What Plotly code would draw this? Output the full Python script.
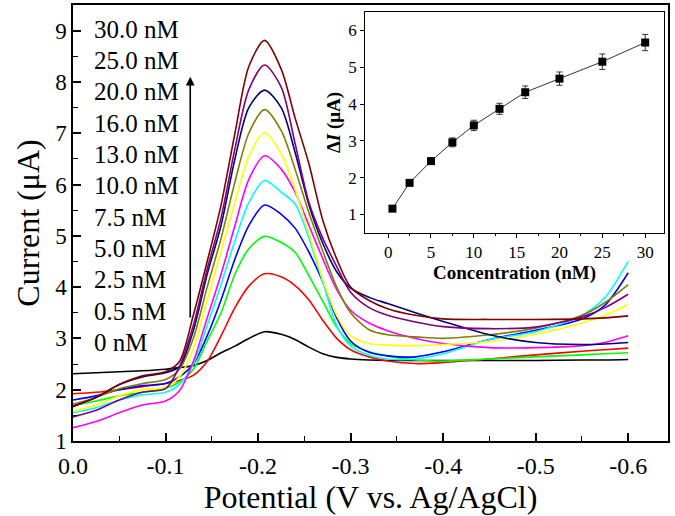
import plotly.graph_objects as go

# ---------------- data ----------------
potential = [0, -0.025, -0.05, -0.075, -0.1, -0.115, -0.13, -0.145, -0.16, -0.175, -0.19, -0.207,
             -0.225, -0.24, -0.255, -0.27, -0.285, -0.3, -0.32, -0.34, -0.37, -0.4, -0.45, -0.5,
             -0.55, -0.575, -0.6]

labels = ["0 nM", "0.5 nM", "2.5 nM", "5.0 nM", "7.5 nM", "10.0 nM", "13.0 nM", "16.0 nM",
          "20.0 nM", "25.0 nM", "30.0 nM"]
colors = ["#000000", "#FF0000", "#00FF00", "#0000FF", "#00FFFF", "#FF00FF", "#FFFF00",
          "#808000", "#000080", "#800080", "#800000"]

c_0nM = [2.31, 2.33, 2.35, 2.37, 2.40, 2.43, 2.47, 2.57, 2.72, 2.85, 3.00, 3.13,
         3.08, 2.98, 2.83, 2.70, 2.63, 2.60, 2.58, 2.57, 2.57, 2.57, 2.57, 2.57, 2.58, 2.58, 2.59]
c_05nM = [1.92, 1.95, 2.00, 2.06, 2.12, 2.18, 2.28, 2.55, 3.05, 3.60, 4.02, 4.26,
          4.20, 4.03, 3.75, 3.35, 3.00, 2.78, 2.64, 2.56, 2.51, 2.53, 2.60, 2.68, 2.75, 2.78, 2.81]
c_25nM = [1.69, 1.78, 1.88, 1.95, 2.03, 2.15, 2.40, 2.95, 3.50, 4.25, 4.75, 4.99,
          4.87, 4.68, 4.22, 3.72, 3.22, 2.90, 2.74, 2.66, 2.58, 2.56, 2.60, 2.64, 2.68, 2.70, 2.72]
c_5nM = [1.80, 1.88, 2.00, 2.08, 2.12, 2.25, 2.50, 3.05, 3.75, 4.55, 5.20, 5.60,
         5.42, 5.15, 4.68, 4.10, 3.40, 2.95, 2.73, 2.66, 2.64, 2.74, 2.98, 3.16, 3.38, 3.65, 4.28]
c_75nM = [1.55, 1.65, 1.80, 1.90, 1.95, 2.10, 2.50, 3.25, 4.05, 4.90, 5.65, 6.08,
          5.85, 5.62, 4.95, 4.10, 3.25, 2.85, 2.67, 2.60, 2.60, 2.70, 2.98, 3.13, 3.45, 3.80, 4.50]
c_10nM = [1.26, 1.38, 1.55, 1.70, 1.78, 1.98, 2.55, 3.40, 4.25, 5.20, 6.10, 6.56,
          6.30, 5.85, 5.20, 4.55, 3.95, 3.55, 3.30, 3.15, 3.00, 2.90, 2.82, 2.82, 2.86, 2.92, 3.05]
c_13nM = [1.58, 1.70, 1.88, 2.00, 2.05, 2.25, 2.80, 3.75, 4.70, 5.65, 6.55, 7.01,
          6.60, 5.90, 5.05, 4.15, 3.45, 3.05, 2.90, 2.87, 2.86, 2.88, 2.94, 3.08, 3.30, 3.45, 3.66]
c_16nM = [1.72, 1.85, 2.02, 2.12, 2.20, 2.40, 3.00, 4.00, 4.95, 6.05, 7.00, 7.46,
          7.05, 6.30, 5.45, 4.70, 4.00, 3.50, 3.17, 3.07, 3.03, 3.00, 3.07, 3.20, 3.45, 3.70, 4.05]
c_20nM = [1.68, 1.85, 2.10, 2.25, 2.33, 2.45, 3.15, 4.25, 5.20, 6.50, 7.50, 7.84,
          7.50, 6.63, 5.60, 4.85, 4.30, 3.98, 3.80, 3.68, 3.50, 3.33, 3.07, 2.92, 2.88, 2.89, 2.92]
c_25nM_b = [1.47, 1.60, 1.80, 1.95, 2.02, 2.45, 3.25, 4.35, 5.35, 6.70, 7.85, 8.33,
            7.90, 6.80, 5.65, 4.95, 4.40, 3.90, 3.60, 3.45, 3.32, 3.23, 3.19, 3.22, 3.42, 3.60, 3.86]
c_30nM = [1.67, 1.85, 2.10, 2.27, 2.35, 2.55, 3.45, 4.50, 5.60, 7.00, 8.30, 8.81,
          8.25, 7.30, 6.40, 5.30, 4.55, 4.00, 3.74, 3.58, 3.45, 3.38, 3.37, 3.37, 3.38, 3.40, 3.44]

curves = [c_0nM, c_05nM, c_25nM, c_5nM, c_75nM, c_10nM, c_13nM, c_16nM, c_20nM, c_25nM_b, c_30nM]

x_tickvals = [0.0, -0.1, -0.2, -0.3, -0.4, -0.5, -0.6]
x_ticktext = ["0.0", "-0.1", "-0.2", "-0.3", "-0.4", "-0.5", "-0.6"]
y_tickvals = [1, 2, 3, 4, 5, 6, 7, 8, 9]

# inset data
conc = [0.5, 2.5, 5, 7.5, 10, 13, 16, 20, 25, 30]
delta_i = [1.16, 1.86, 2.45, 2.96, 3.42, 3.87, 4.32, 4.69, 5.15, 5.67]
delta_err = [0.05, 0.06, 0.09, 0.12, 0.14, 0.15, 0.17, 0.18, 0.21, 0.22]
inset_xticks = [0, 5, 10, 15, 20, 25, 30]
inset_yticks = [1, 2, 3, 4, 5, 6]

# ---------------- figure ----------------
SERIF = "Liberation Serif, Times New Roman, serif"
fig = go.Figure()

for lab, col, ys in zip(labels, colors, curves):
    fig.add_trace(go.Scatter(x=potential, y=ys, mode="lines", name=lab,
                             line=dict(color=col, width=1.6, shape="spline", smoothing=0.8),
                             showlegend=False, xaxis="x", yaxis="y"))

fig.add_trace(go.Scatter(x=conc, y=delta_i, mode="lines+markers",
                         line=dict(color="#333333", width=1),
                         marker=dict(symbol="square", size=8, color="black"),
                         error_y=dict(type="data", array=delta_err, visible=True,
                                      color="#333333", thickness=1, width=3),
                         showlegend=False, xaxis="x2", yaxis="y2"))

# legend-like labels (text in data coordinates of main plot)
label_x = -0.021
label_top = 9.03
label_step = 0.611
annotations = []
for i, lab in enumerate(reversed(labels)):
    annotations.append(dict(x=label_x, y=label_top - i * label_step, xref="x", yref="y",
                            text=lab, showarrow=False, xanchor="left", yanchor="middle",
                            font=dict(family=SERIF, size=25, color="black")))
# arrow
annotations.append(dict(x=-0.1267, y=8.1, ax=-0.1267, ay=3.38, xref="x", yref="y",
                        axref="x", ayref="y", text="", showarrow=True, arrowhead=2,
                        arrowsize=1.1, arrowwidth=1.6, arrowcolor="black"))

axis_common = dict(showline=True, linecolor="black", linewidth=1.5, mirror=True,
                   showgrid=False, zeroline=False)

fig.update_layout(
    width=675, height=516,
    margin=dict(l=73, r=7, t=3, b=75),
    paper_bgcolor="white", plot_bgcolor="white",
    font=dict(family=SERIF, color="black"),
    xaxis=dict(range=[0.0, -0.643], tickvals=x_tickvals, ticktext=x_ticktext,
               ticks="inside", ticklen=8, tickwidth=1.5, tickcolor="black",
               minor=dict(tickvals=[-0.05, -0.15, -0.25, -0.35, -0.45, -0.55],
                          ticks="inside", ticklen=5, tickwidth=1.2, tickcolor="black"),
               tickfont=dict(family=SERIF, size=24), ticklabelstandoff=2,
               title=dict(text="Potential (V vs. Ag/AgCl)", font=dict(family=SERIF, size=32),
                          standoff=2),
               **axis_common),
    yaxis=dict(range=[1, 9.5], tickvals=y_tickvals,
               ticks="inside", ticklen=8, tickwidth=1.5, tickcolor="black",
               minor=dict(tickvals=[1.5, 2.5, 3.5, 4.5, 5.5, 6.5, 7.5, 8.5],
                          ticks="inside", ticklen=5, tickwidth=1.2, tickcolor="black"),
               tickfont=dict(family=SERIF, size=23),
               title=dict(text="Current (μA)", font=dict(family=SERIF, size=32), standoff=6),
               **axis_common),
    xaxis2=dict(domain=[0.4908, 0.9933], anchor="y2", range=[-2.7, 32.2],
                tickvals=inset_xticks, ticks="outside", ticklen=4, tickwidth=1, tickcolor="black",
                minor=dict(tickvals=[2.5, 7.5, 12.5, 17.5, 22.5, 27.5], ticks="outside",
                           ticklen=2, tickwidth=1, tickcolor="black"),
                tickfont=dict(family=SERIF, size=17),
                title=dict(text="<b>Concentration (nM)</b>", font=dict(family=SERIF, size=19),
                           standoff=0),
                showline=True, linecolor="black", linewidth=1, mirror=True,
                showgrid=False, zeroline=False),
    yaxis2=dict(domain=[0.4772, 0.984], anchor="x2", range=[0.5, 6.5],
                tickvals=inset_yticks, ticks="outside", ticklen=4, tickwidth=1, tickcolor="black",
                tickfont=dict(family=SERIF, size=17),
                title=dict(text="<b>Δ<i>I</i> (μA)</b>", font=dict(family=SERIF, size=19),
                           standoff=2),
                showline=True, linecolor="black", linewidth=1, mirror=True,
                showgrid=False, zeroline=False),
    annotations=annotations,
)

fig.write_html("out.html", config={"displayModeBar": False},
               post_script="document.body.style.margin='0';")
